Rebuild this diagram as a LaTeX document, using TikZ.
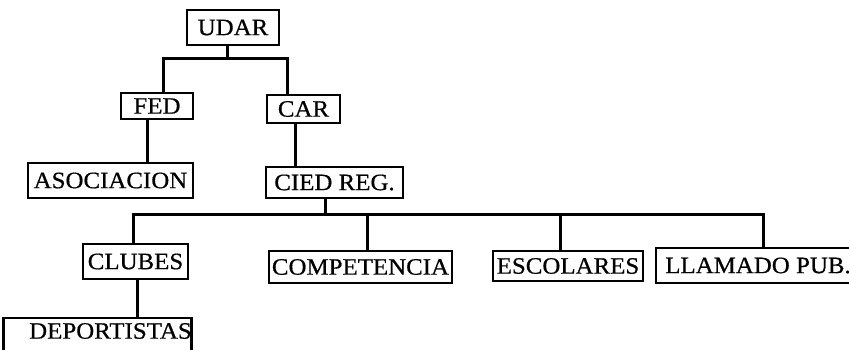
\documentclass[tikz,border=0pt]{standalone}
\usepackage{fontspec}
\setmainfont{Liberation Serif}[FakeStretch=1.06,FakeBold=0.6]
\begin{document}
\begin{tikzpicture}[x=1pt,y=-1pt,
  box/.style={draw,line width=2.8pt,rectangle,inner sep=0pt,font=\fontsize{23.5}{27}\selectfont},
  conn/.style={line width=3pt}]
\useasboundingbox (0,0) rectangle (849,349);
\clip (0,0) rectangle (849,349);
\fill[white] (0,0) rectangle (849,349);
\node[box,minimum width=92pt,minimum height=35pt] (udar) at (233,27.5) {UDAR};
\node[box,minimum width=72pt,minimum height=26pt] (fed) at (157,106) {FED};
\node[box,minimum width=73pt,minimum height=28pt] (car) at (303.5,109) {CAR};
\node[box,minimum width=165pt,minimum height=35pt] (aso) at (110.5,180.5) {ASOCIACION};
\node[box,minimum width=137pt,minimum height=31pt] (cied) at (334.5,182.5) {CIED REG.};
\node[box,minimum width=105pt,minimum height=35pt] (clubes) at (135.5,261.5) {CLUBES};
\node[box,minimum width=183pt,minimum height=32pt] (comp) at (360.5,267) {COMPETENCIA};
\node[box,minimum width=150pt,minimum height=30pt] (esc) at (568,266) {ESCOLARES};
\node[box,minimum width=204pt,minimum height=35pt] (llam) at (758,265.5) {LLAMADO PUB.};
\node[box,minimum width=179pt,minimum height=38pt] (dep) at (97.5,337) {\raisebox{6pt}[\height][\depth]{\hspace*{26pt}DEPORTISTAS}};
% top level
\coordinate (b1) at (227,58);
\coordinate (b1l) at (163,58);
\coordinate (b1r) at (287,58);
\draw[conn] (b1 |- udar.south) -- (b1);
\draw[conn] (b1l |- fed.north) -- (b1l) -- (b1r) -- (b1r |- car.north);
% FED -> ASOCIACION
\coordinate (f) at (147,140);
\draw[conn] (f |- fed.south) -- (f |- aso.north);
% CAR -> CIED
\coordinate (c) at (295,140);
\draw[conn] (c |- car.south) -- (c |- cied.north);
% CIED -> bus
\coordinate (b2) at (325,214);
\coordinate (b2l) at (133,214);
\coordinate (b2r) at (763,214);
\coordinate (b2c) at (367,214);
\coordinate (b2e) at (560,214);
\draw[conn] (b2 |- cied.south) -- (b2);
\draw[conn] (b2l |- clubes.north) -- (b2l) -- (b2r) -- (b2r |- llam.north);
\draw[conn] (b2c) -- (b2c |- comp.north);
\draw[conn] (b2e) -- (b2e |- esc.north);
% CLUBES -> DEPORTISTAS
\coordinate (d) at (137,300);
\draw[conn] (d |- clubes.south) -- (d |- dep.north);
\end{tikzpicture}
\end{document}
